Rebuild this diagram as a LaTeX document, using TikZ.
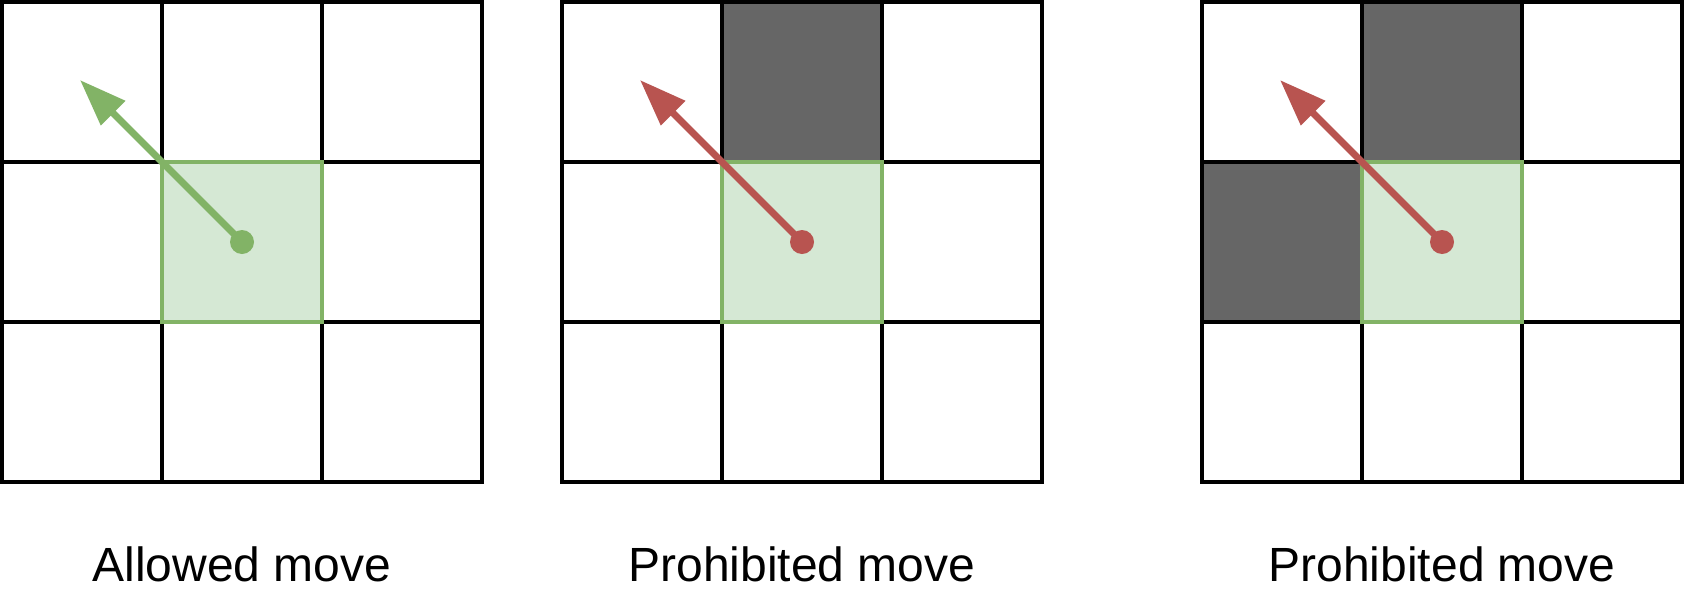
\documentclass[tikz,border=0pt]{standalone}
\usepackage{fontspec}
\setmainfont{Liberation Sans}
\usetikzlibrary{arrows.meta}
\definecolor{okgreen}{HTML}{82B366}
\definecolor{okfill}{HTML}{D5E8D4}
\definecolor{badred}{HTML}{B85450}
\definecolor{wallgray}{HTML}{666666}
\begin{document}
\begin{tikzpicture}[x=1pt,y=-1pt,
  cell/.style={draw=black, line width=4pt, fill=white, minimum size=160pt,
    inner sep=0pt, outer sep=0pt, anchor=north west},
  wall/.style={cell, fill=wallgray},
  startcell/.style={cell, draw=okgreen, fill=okfill, line width=3.6pt},
  dot/.style={circle, inner sep=0pt, minimum size=24pt, fill=#1},
  move/.style={draw=#1, line width=7pt,
    -{Triangle[length=47pt, width=33pt]}},
  caption/.style={font=\fontsize{48}{54}\selectfont, inner sep=0pt}
]
\useasboundingbox (0,0) rectangle (1688,608);

\foreach \gx/\gn/\gc in {2/ga/okgreen, 562/gb/badred, 1202/gc/badred}{
  \foreach \r in {0,1,2}{
    \foreach \c in {0,1,2}{
      \node[cell] (\gn-\r-\c) at (\gx+160*\c, 2+160*\r) {};
    }
  }
}
% blocked cells
\node[wall] (gb-0-1w) at (722,2) {};
\node[wall] (gc-0-1w) at (1362,2) {};
\node[wall] (gc-1-0w) at (1202,162) {};

\foreach \gx/\gn/\gc in {2/ga/okgreen, 562/gb/badred, 1202/gc/badred}{
  \node[startcell] (\gn-start) at (\gx+160, 162) {};
  \node[dot=\gc] (\gn-dot) at (\gn-start.center) {};
  \coordinate (\gn-tip) at (\gx+78, 80);
  \draw[move=\gc] (\gn-dot.center) -- (\gn-tip);
}

\node[caption] (la) at (242,564) {Allowed move};
\node[caption] (lb) at (802,564) {Prohibited move};
\node[caption] (lc) at (1442,564) {Prohibited move};
\end{tikzpicture}
\end{document}
